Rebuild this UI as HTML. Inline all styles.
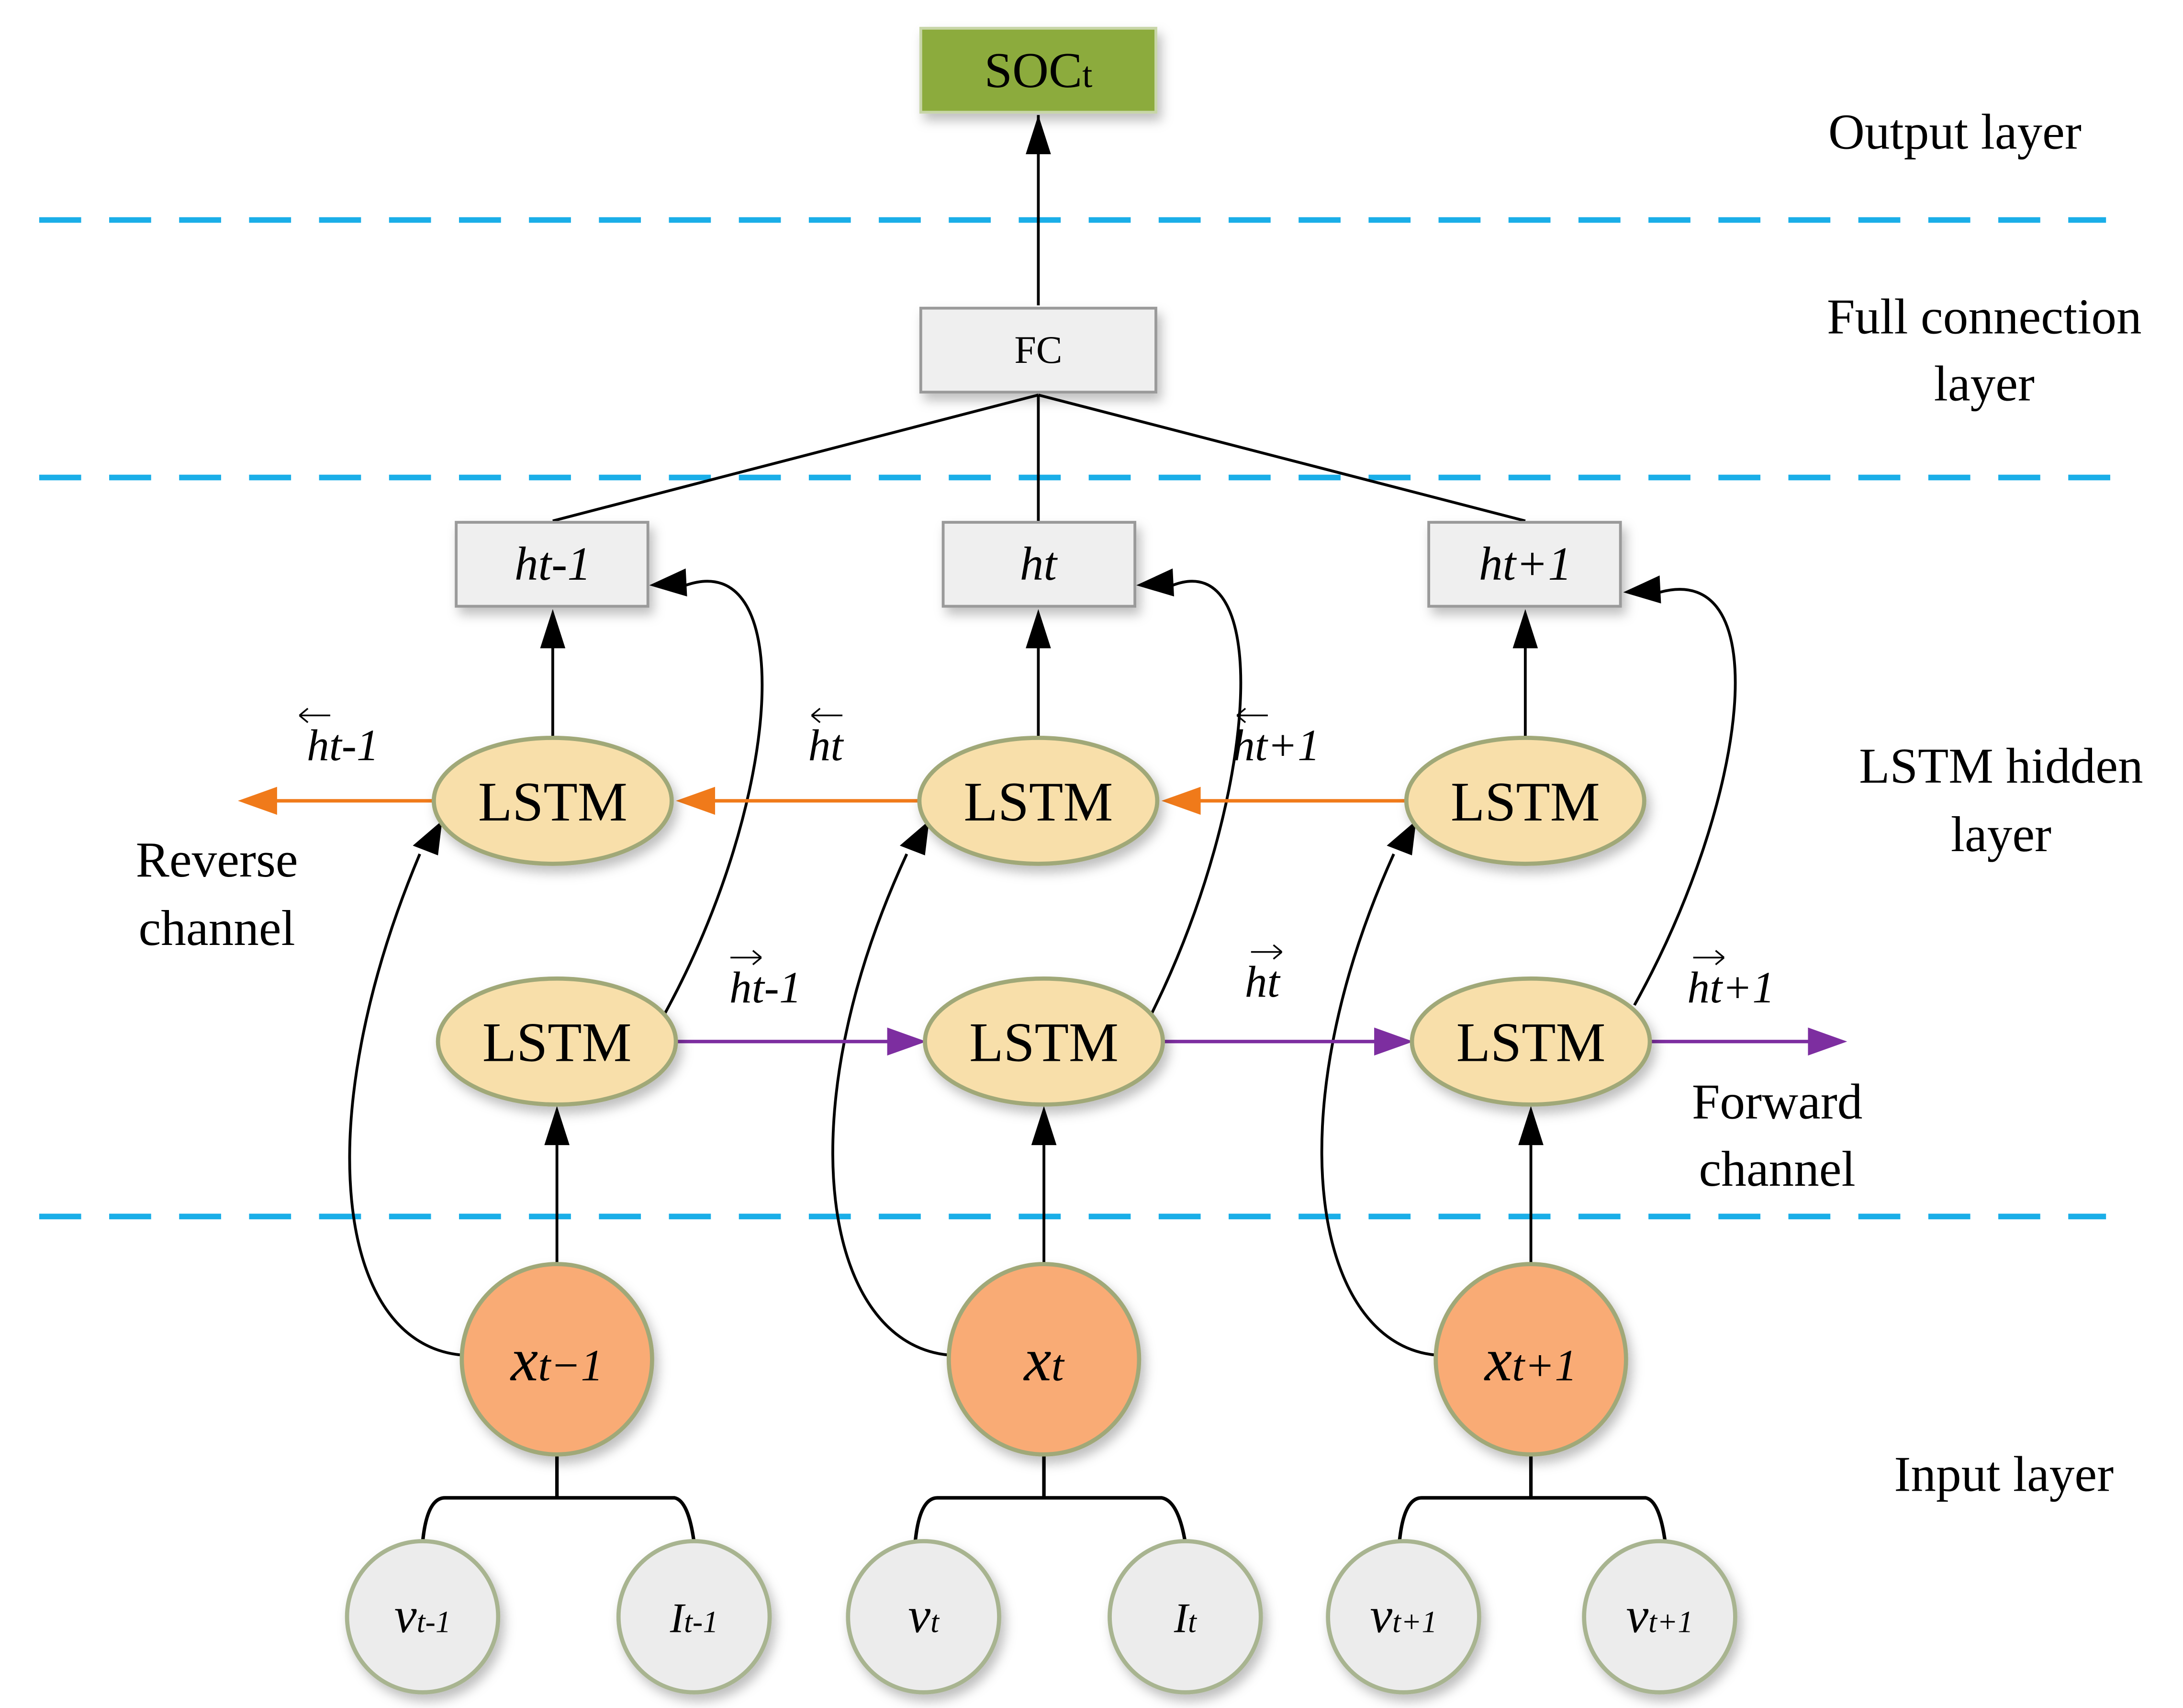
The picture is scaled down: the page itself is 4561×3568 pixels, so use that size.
<!DOCTYPE html>
<html><head><meta charset="utf-8"><style>html,body{margin:0;padding:0;background:#fff}svg{display:block}</style></head>
<body>
<svg xmlns="http://www.w3.org/2000/svg" width="4561" height="3568" viewBox="0 0 1560 1220" font-family="Liberation Serif, serif">
<defs>
<filter id="sh" x="-20%" y="-20%" width="150%" height="150%"><feDropShadow dx="3" dy="5" stdDeviation="4" flood-color="#000" flood-opacity="0.25"/></filter>
</defs>
<g stroke="#1aaee8" stroke-width="4" stroke-dasharray="30,20">
<line x1="28" y1="157" x2="1505" y2="157"/>
<line x1="28" y1="341" x2="1520" y2="341"/>
<line x1="28" y1="869" x2="1505" y2="869"/>
</g>
<g stroke="#000" stroke-width="2" fill="none">
<line x1="742" y1="218" x2="742" y2="82"/>
<line x1="742" y1="282" x2="395" y2="372"/>
<line x1="742" y1="282" x2="742" y2="372"/>
<line x1="742" y1="282" x2="1090" y2="372"/>
</g>
<path d="M742,82 l-9,28 h18 z" fill="#000"/>
<rect x="658" y="20" width="168" height="60" fill="#8cab3c" stroke="#c8d6a8" stroke-width="2" filter="url(#sh)"/>
<text x="742" y="62" font-size="36" text-anchor="middle">SOC<tspan font-size="26">t</tspan></text>
<rect x="658" y="220" width="168" height="60" fill="#efefef" stroke="#9a9a9a" stroke-width="2" filter="url(#sh)"/>
<text x="742" y="259" font-size="28" text-anchor="middle">FC</text>
<g fill="#efefef" stroke="#9a9a9a" stroke-width="2" filter="url(#sh)">
<rect x="326" y="373" width="137" height="60"/>
<rect x="674" y="373" width="137" height="60"/>
<rect x="1021" y="373" width="137" height="60"/>
</g>
<g font-size="34" font-style="italic" text-anchor="middle">
<text x="395" y="414">ht-1</text>
<text x="742" y="414">ht</text>
<text x="1090" y="414">ht+1</text>
</g>
<g stroke="#000" stroke-width="2" fill="none">
<line x1="395" y1="527" x2="395" y2="462"/>
<line x1="742" y1="527" x2="742" y2="462"/>
<line x1="1090" y1="527" x2="1090" y2="462"/>
<line x1="398" y1="903" x2="398" y2="818"/>
<line x1="746" y1="903" x2="746" y2="818"/>
<line x1="1094" y1="903" x2="1094" y2="818"/>
<path d="M330,968 C240,960 220,800 300,610"/>
<path d="M678,968 C590,960 560,800 648,610"/>
<path d="M1026,968 C940,960 910,800 996,610"/>
<path d="M474,726 C560,570 570,390 490,418"/>
<path d="M822,726 C900,570 910,390 838,418"/>
<path d="M1168,718 C1250,570 1270,400 1186,423"/>
</g>
<g fill="#000">
<path d="M395,435 l-9,28 h18 z"/><path d="M742,435 l-9,28 h18 z"/><path d="M1090,435 l-9,28 h18 z"/>
<path d="M398,790 l-9,28 h18 z"/><path d="M746,790 l-9,28 h18 z"/><path d="M1094,790 l-9,28 h18 z"/>
<path d="M316,586 l-21,18 l18,7 z"/><path d="M664,586 l-21,18 l18,7 z"/><path d="M1012,586 l-21,18 l18,7 z"/>
<path d="M464,418 l26,-12 l1,20 z"/><path d="M812,418 l26,-12 l1,20 z"/><path d="M1160,423 l26,-12 l1,20 z"/>
</g>
<g stroke="#f07a1a" stroke-width="2.5"><line x1="310" y1="572" x2="190" y2="572"/><line x1="657" y1="572" x2="505" y2="572"/><line x1="1005" y1="572" x2="852" y2="572"/></g>
<g fill="#f07a1a"><path d="M170,572 l28,-10 v20 z"/><path d="M483,572 l28,-10 v20 z"/><path d="M830,572 l28,-10 v20 z"/></g>
<g stroke="#7d2ea0" stroke-width="2.5"><line x1="483" y1="744" x2="640" y2="744"/><line x1="831" y1="744" x2="988" y2="744"/><line x1="1178" y1="744" x2="1298" y2="744"/></g>
<g fill="#7d2ea0"><path d="M662,744 l-28,-10 v20 z"/><path d="M1010,744 l-28,-10 v20 z"/><path d="M1320,744 l-28,-10 v20 z"/></g>
<g fill="#f8dfaa" stroke="#a0a878" stroke-width="3" filter="url(#sh)">
<ellipse cx="395" cy="572" rx="85" ry="45"/><ellipse cx="742" cy="572" rx="85" ry="45"/><ellipse cx="1090" cy="572" rx="85" ry="45"/>
<ellipse cx="398" cy="744" rx="85" ry="45"/><ellipse cx="746" cy="744" rx="85" ry="45"/><ellipse cx="1094" cy="744" rx="85" ry="45"/>
</g>
<g font-size="40" text-anchor="middle">
<text x="395" y="586">LSTM</text><text x="742" y="586">LSTM</text><text x="1090" y="586">LSTM</text>
<text x="398" y="758">LSTM</text><text x="746" y="758">LSTM</text><text x="1094" y="758">LSTM</text>
</g>
<g stroke="#000" stroke-width="2.5" fill="none">
<path d="M398,1040 V1070 M302,1102 Q305,1070 318,1070 H482 Q492,1072 496,1102"/>
<path d="M746,1040 V1070 M654,1102 Q657,1070 670,1070 H830 Q842,1072 847,1102"/>
<path d="M1094,1040 V1070 M1000,1102 Q1003,1070 1016,1070 H1176 Q1186,1072 1190,1102"/>
</g>
<g fill="#f9ab75" stroke="#a0a878" stroke-width="3" filter="url(#sh)">
<circle cx="398" cy="971" r="68"/><circle cx="746" cy="971" r="68"/><circle cx="1094" cy="971" r="68"/>
</g>
<g font-size="44" font-style="italic" text-anchor="middle">
<text x="398" y="986">x<tspan font-size="32">t−1</tspan></text>
<text x="746" y="986">x<tspan font-size="32">t</tspan></text>
<text x="1094" y="986">x<tspan font-size="32">t+1</tspan></text>
</g>
<g fill="#ececec" stroke="#a8b490" stroke-width="3" filter="url(#sh)">
<circle cx="302" cy="1155" r="54"/><circle cx="496" cy="1155" r="54"/>
<circle cx="660" cy="1155" r="54"/><circle cx="847" cy="1155" r="54"/>
<circle cx="1003" cy="1155" r="54"/><circle cx="1186" cy="1155" r="54"/>
</g>
<g font-style="italic" text-anchor="middle" font-size="36">
<text x="302" y="1166">v<tspan font-size="22">t-1</tspan></text>
<text x="496" y="1166" font-size="30">I<tspan font-size="22">t-1</tspan></text>
<text x="660" y="1166">v<tspan font-size="22">t</tspan></text>
<text x="847" y="1166" font-size="30">I<tspan font-size="22">t</tspan></text>
<text x="1003" y="1166">v<tspan font-size="22">t+1</tspan></text>
<text x="1186" y="1166">v<tspan font-size="22">t+1</tspan></text>
</g>
<g font-size="32" font-style="italic" text-anchor="middle">
<text x="245" y="543">ht-1</text><text x="590" y="543">ht</text><text x="912" y="543">ht+1</text>
<text x="547" y="716">ht-1</text><text x="902" y="712">ht</text><text x="1237" y="716">ht+1</text>
</g>
<g stroke="#000" stroke-width="1.2" fill="none">
<path d="M214,511 h22 M214,511 l6,-5 M214,511 l6,5"/>
<path d="M580,511 h22 M580,511 l6,-5 M580,511 l6,5"/>
<path d="M884,511 h22 M884,511 l6,-5 M884,511 l6,5"/>
<path d="M522,684 h22 M544,684 l-6,-5 M544,684 l-6,5"/>
<path d="M894,680 h22 M916,680 l-6,-5 M916,680 l-6,5"/>
<path d="M1210,684 h22 M1232,684 l-6,-5 M1232,684 l-6,5"/>
</g>
<g font-size="36" text-anchor="middle">
<text x="1397" y="106">Output layer</text>
<text x="1418" y="238">Full connection</text><text x="1418" y="286">layer</text>
<text x="1430" y="559">LSTM hidden</text><text x="1430" y="608">layer</text>
<text x="1432" y="1065">Input layer</text>
<text x="155" y="626">Reverse</text><text x="155" y="675">channel</text>
<text x="1270" y="799">Forward</text><text x="1270" y="847">channel</text>
</g>
</svg>
</body></html>
